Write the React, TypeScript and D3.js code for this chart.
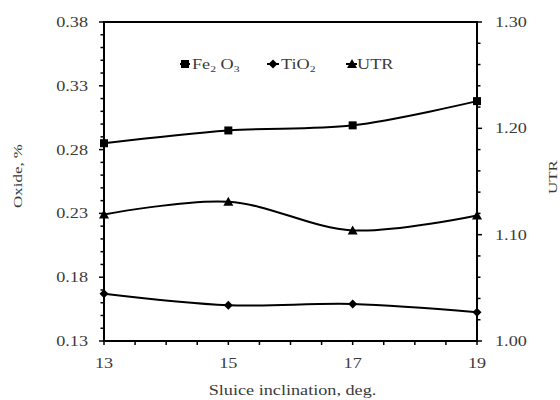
import React from "react";
import * as d3 from "d3";

const inclination = [13, 15, 17, 19];
const fe2o3 = [0.285, 0.295, 0.299, 0.318];
const tio2 = [0.167, 0.158, 0.159, 0.1525];
const utr = [1.119, 1.131, 1.104, 1.118];
const leftTicks = [0.13, 0.18, 0.23, 0.28, 0.33, 0.38];
const rightTicks = [1.0, 1.1, 1.2, 1.3];
const xTicks = [13, 15, 17, 19];

const W = 560, H = 400;
const M = { left: 104, right: 477, top: 22, bottom: 341 };
const FONT = "'Liberation Serif', 'Times New Roman', serif";
const SX = 1.3;
const TXT = "#3a3a3a";

function Txt({ x, y, anchor = "start", size = 14, rotate = 0, children }: any) {
  const t = rotate
    ? `translate(${x},${y}) rotate(${rotate}) scale(${SX},1)`
    : `translate(${x},${y}) scale(${SX},1)`;
  return (
    <text transform={t} textAnchor={anchor} fontFamily={FONT} fontSize={size} fill={TXT}>
      {children}
    </text>
  );
}

export default function App() {
  const x = d3.scaleLinear().domain([13, 19]).range([M.left, M.right]);
  const yL = d3.scaleLinear().domain([0.13, 0.38]).range([M.bottom, M.top]);
  const yR = d3.scaleLinear().domain([1.0, 1.3]).range([M.bottom, M.top]);

  const line = (ys: number[], sc: any) =>
    d3
      .line<number>()
      .x((_, i) => x(inclination[i]))
      .y((d) => sc(d))
      .curve(d3.curveCatmullRom.alpha(0.5))(ys) as string;

  const minorL = d3.range(0, 26).map((i) => 0.13 + i * 0.01);
  const minorR = d3.range(0, 16).map((i) => 1.0 + i * 0.02);
  const minorX = d3.range(0, 13).map((i) => 13 + i * 0.5);

  const square = (cx: number, cy: number, k: string) => (
    <rect key={k} x={cx - 4} y={cy - 4} width={8} height={8} fill="#000" />
  );
  const diamond = (cx: number, cy: number, k: string) => (
    <path key={k} d={`M${cx},${cy - 4.5}L${cx + 4.5},${cy}L${cx},${cy + 4.5}L${cx - 4.5},${cy}Z`} fill="#000" />
  );
  const triangle = (cx: number, cy: number, k: string) => (
    <path key={k} d={`M${cx},${cy - 5}L${cx + 5},${cy + 4}L${cx - 5},${cy + 4}Z`} fill="#000" />
  );

  return (
    <svg width={W} height={H} style={{ position: "absolute", left: 0, top: 0, background: "#fff" }}>
      {/* frame */}
      <rect x={M.left} y={M.top} width={M.right - M.left} height={M.bottom - M.top} fill="none" stroke="#000" strokeWidth={2} />
      {/* left ticks */}
      {minorL.map((v, i) => (
        <line key={"ml" + i} x1={M.left - (i % 5 === 0 ? 5 : 3.5)} x2={M.left} y1={yL(v)} y2={yL(v)} stroke="#000" strokeWidth={1.5} />
      ))}
      {leftTicks.map((v) => (
        <Txt key={"lt" + v} x={M.left - 16} y={yL(v) + 5} anchor="end">{v.toFixed(2)}</Txt>
      ))}
      {/* right ticks */}
      {minorR.map((v, i) => (
        <line key={"mr" + i} x1={M.right} x2={M.right + (i % 5 === 0 ? 5 : 3.5)} y1={yR(v)} y2={yR(v)} stroke="#000" strokeWidth={1.5} />
      ))}
      {rightTicks.map((v) => (
        <Txt key={"rt" + v} x={M.right + 18} y={yR(v) + 5}>{v.toFixed(2)}</Txt>
      ))}
      {/* x ticks */}
      {minorX.map((v, i) => (
        <line key={"mx" + i} x1={x(v)} x2={x(v)} y1={M.bottom} y2={M.bottom + 4} stroke="#000" strokeWidth={1.5} />
      ))}
      {xTicks.map((v) => (
        <Txt key={"xt" + v} x={x(v)} y={M.bottom + 27} anchor="middle">{v}</Txt>
      ))}
      {/* axis titles */}
      <Txt x={(M.left + M.right) / 2 + 2} y={395} anchor="middle" size={14}>Sluice inclination, deg.</Txt>
      <Txt x={22} y={176} anchor="middle" rotate={-90} size={13}>Oxide, %</Txt>
      <Txt x={557} y={177} anchor="middle" rotate={-90} size={13}>UTR</Txt>
      {/* lines */}
      <path d={line(fe2o3, yL)} fill="none" stroke="#000" strokeWidth={2} />
      <path d={line(tio2, yL)} fill="none" stroke="#000" strokeWidth={2} />
      <path d={line(utr, yR)} fill="none" stroke="#000" strokeWidth={2} />
      {fe2o3.map((v, i) => square(x(inclination[i]), yL(v), "s" + i))}
      {tio2.map((v, i) => diamond(x(inclination[i]), yL(v), "d" + i))}
      {utr.map((v, i) => triangle(x(inclination[i]), yR(v), "t" + i))}
      {/* legend */}
      <line x1={180} x2={190} y1={64} y2={64} stroke="#000" strokeWidth={2} />
      {square(185, 64, "ls")}
      <Txt x={192} y={69}>
        Fe<tspan fontSize={9} dy={3}>2</tspan><tspan dy={-3}> O</tspan><tspan fontSize={9} dy={3}>3</tspan>
      </Txt>
      <line x1={267} x2={279} y1={64} y2={64} stroke="#000" strokeWidth={2} />
      {diamond(273, 64, "ld")}
      <Txt x={281} y={69}>
        TiO<tspan fontSize={9} dy={3}>2</tspan>
      </Txt>
      <line x1={346} x2={357} y1={64} y2={64} stroke="#000" strokeWidth={2} />
      {triangle(352, 64, "lt")}
      <Txt x={357} y={69}>UTR</Txt>
    </svg>
  );
}
